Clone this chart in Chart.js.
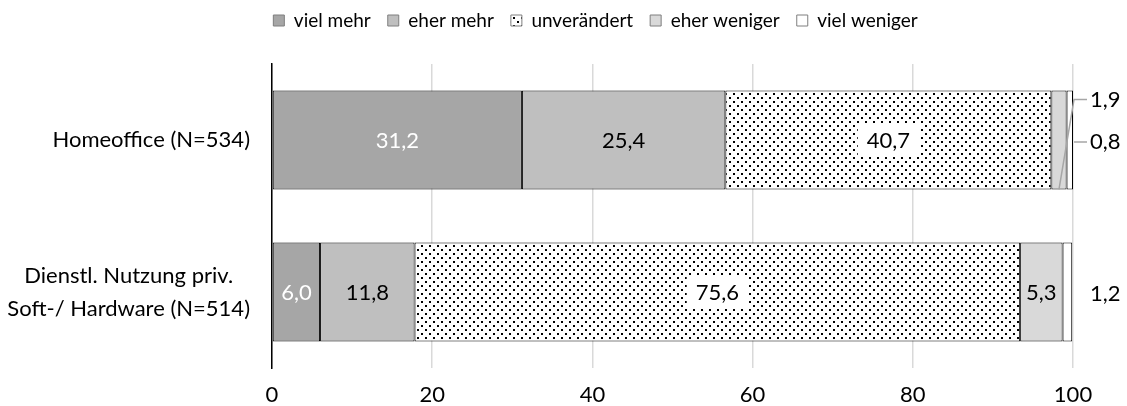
<!DOCTYPE html>
<html>
<head>
<meta charset="utf-8">
<script src="https://cdn.jsdelivr.net/npm/chart.js@4"></script>
<style>
  html, body { margin: 0; padding: 0; background: #fff; }
  #wrap { width: 1127px; height: 406px; }
</style>
</head>
<body>
<div id="wrap"><canvas id="chart" width="1127" height="406"></canvas></div>
<script>
const categories = ['Homeoffice (N=534)', ['Dienstl. Nutzung priv.', 'Soft-/ Hardware (N=514)']];
const seriesNames = ['viel mehr', 'eher mehr', 'unverändert', 'eher weniger', 'viel weniger'];
const vielMehr = [31.2, 6.0];
const eherMehr = [25.4, 11.8];
const unveraendert = [40.7, 75.6];
const eherWeniger = [1.9, 5.3];
const vielWeniger = [0.8, 1.2];
const xTicks = [0, 20, 40, 60, 80, 100];

const FONT = 'Lato';
const TEXT = '#000000';

// dotted fill like the excel pattern
function dotPattern() {
    const c = document.createElement('canvas');
    c.width = 8; c.height = 8;
    const g = c.getContext('2d');
    g.fillStyle = '#fff';
    g.fillRect(0, 0, 8, 8);
    g.fillStyle = '#000';
    g.fillRect(1, 1, 2, 2);
    g.fillRect(5, 5, 2, 2);
    return g.createPattern(c, 'repeat');
}
const dots = dotPattern();

const fills = ['#a6a6a6', '#bfbfbf', dots, '#d9d9d9', '#ffffff'];
const values = [vielMehr, eherMehr, unveraendert, eherWeniger, vielWeniger];

function fmt(v) {
    return v.toFixed(1).replace('.', ',');
}

const labelPlugin = {
    id: 'barLabels',
    beforeLayout(chart) {
        // reserve the same space above the plot as the original
        const lg = chart.legend;
        if (!lg) return;
        const origFit = Object.getPrototypeOf(lg).fit;
        lg.fit = function() {
            origFit.call(this);
            this.height = 64;
        };
    },
    afterLayout(chart) {
        const lg = chart.legend;
        if (!lg) return;
        lg.left += 59; lg.right += 59;
        lg.top -= 6; lg.bottom -= 6;
    },
    afterDatasetsDraw(chart) {
        const ctx = chart.ctx;
        const area = chart.chartArea;
        ctx.save();
        ctx.font = '22px ' + FONT;
        ctx.textBaseline = 'middle';
        chart.data.labels.forEach((cat, j) => {
            const outside = [];
            chart.data.datasets.forEach((ds, i) => {
                const bar = chart.getDatasetMeta(i).data[j];
                const v = ds.data[j];
                const txt = fmt(v);
                const cx = (bar.x + bar.base) / 2;
                if (v < 2) {
                    outside.push({ bar, txt, cx });
                    return;
                }
                const w = ctx.measureText(txt).width;
                if (i === 2) {
                    ctx.fillStyle = '#fff';
                    ctx.fillRect(cx - w / 2 - 9, bar.y - 16, w + 18, 32);
                }
                ctx.fillStyle = i === 0 ? '#ffffff' : TEXT;
                ctx.textAlign = 'center';
                ctx.fillText(txt, cx, bar.y + 1);
            });
            outside.forEach((o, k) => {
                const raised = outside.length > 1 && k < outside.length - 1;
                const ly = raised ? o.bar.y - o.bar.height / 2 + 9 : o.bar.y + 2;
                if (outside.length > 1) {
                    ctx.strokeStyle = '#a6a6a6';
                    ctx.lineWidth = 1.5;
                    ctx.beginPath();
                    ctx.moveTo(area.right + 14, ly);
                    ctx.lineTo(area.right + 1, ly);
                    if (raised) ctx.lineTo(o.cx, o.bar.y + o.bar.height / 2);
                    ctx.stroke();
                }
                ctx.fillStyle = TEXT;
                ctx.textAlign = 'left';
                ctx.fillText(o.txt, area.right + 17, ly);
            });
        });
        ctx.restore();
    },
    afterDraw(chart) {
        // category labels: block right aligned, lines centred inside block
        const ctx = chart.ctx;
        const yScale = chart.scales.y;
        const area = chart.chartArea;
        ctx.save();
        ctx.font = '22px ' + FONT;
        ctx.fillStyle = TEXT;
        ctx.textAlign = 'center';
        ctx.textBaseline = 'middle';
        categories.forEach((cat, j) => {
            const lines = Array.isArray(cat) ? cat : [cat];
            const maxW = Math.max(...lines.map(l => ctx.measureText(l).width));
            const cxBlock = area.left - 22 - maxW / 2;
            const yc = yScale.getPixelForValue(j);
            const lh = 33;
            lines.forEach((l, k) => {
                ctx.fillText(l, cxBlock, yc + (k - (lines.length - 1) / 2) * lh);
            });
        });
        ctx.restore();
    }
};

const ctx = document.getElementById('chart').getContext('2d');
new Chart(ctx, {
    type: 'bar',
    data: {
        labels: categories,
        datasets: seriesNames.map((name, i) => ({
            label: name,
            data: values[i],
            backgroundColor: fills[i],
            borderColor: '#000000',
            borderWidth: 1,
            borderSkipped: false,
            categoryPercentage: 1,
            barPercentage: 0.65
        }))
    },
    options: {
        indexAxis: 'y',
        responsive: false,
        animation: false,
        layout: { padding: { left: 0, right: 54, top: 0, bottom: 0 } },
        plugins: {
            legend: {
                position: 'top',
                labels: {
                    font: { family: FONT, size: 19 },
                    color: TEXT,
                    boxWidth: 11,
                    boxHeight: 11,
                    padding: 17,
                    generateLabels(chart) {
                        const items = Chart.defaults.plugins.legend.labels.generateLabels(chart);
                        items.forEach(it => { it.strokeStyle = '#7f7f7f'; it.lineWidth = 1; });
                        return items;
                    }
                }
            },
            tooltip: { enabled: false }
        },
        scales: {
            x: {
                stacked: true,
                min: 0,
                max: 100,
                afterBuildTicks(scale) {
                    scale.ticks = xTicks.map(v => ({ value: v }));
                },
                afterFit(scale) { scale.height = 38; },
                grid: { color: '#d9d9d9', lineWidth: 1.5, drawTicks: false },
                border: { display: false },
                ticks: {
                    padding: 14,
                    font: { family: FONT, size: 22 },
                    color: TEXT
                }
            },
            y: {
                stacked: true,
                afterFit(scale) { scale.width = 272; },
                grid: { display: false, drawTicks: false },
                border: { display: true, color: '#000000', width: 1.5 },
                ticks: { display: false }
            }
        }
    },
    plugins: [labelPlugin]
});
</script>
</body>
</html>
